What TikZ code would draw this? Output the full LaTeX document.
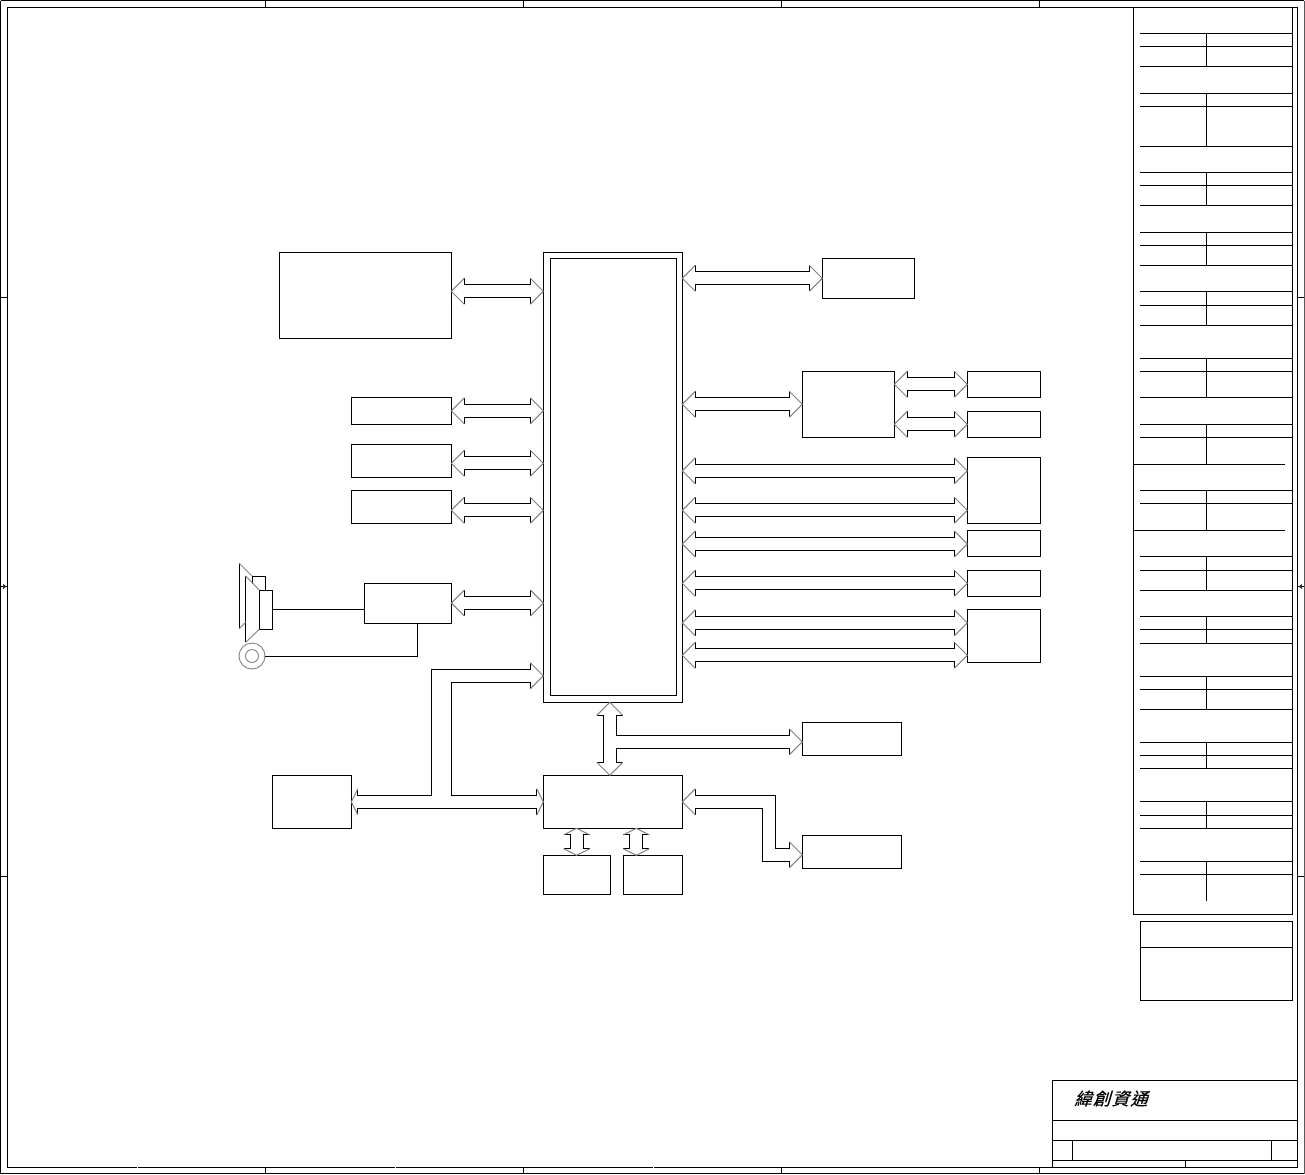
\documentclass[tikz,border=0pt]{standalone}
\usepackage{fontspec}
\newfontfamily\cjk[FakeSlant=0.3,FakeBold=0.4]{Noto Sans CJK TC}
\usetikzlibrary{arrows.meta}
\tikzset{
  wire/.style={draw=black,line width=.75pt,line join=miter,line cap=butt},
  headline/.style={draw=black!50,line width=.75pt,line join=miter},
  faint/.style={draw=black!45,line width=.75pt},
  blk/.style={draw=black,line width=.75pt,inner sep=0pt,outer sep=0pt,fill=none,rectangle}
}
% box: name, x1, y1, x2, y2 (pixels)
\newcommand\bx[5]{%
  \pgfmathsetmacro\bw{(#4-#2)*.75}\pgfmathsetmacro\bh{(#5-#3)*.75}%
  \node[blk,minimum width=\bw pt,minimum height=\bh pt] (#1) at ({(#2+#4)/2},{(#3+#5)/2}) {};}
% horizontal double block arrow between two named nodes at height y
\newcommand\biH[3]{%
  \coordinate (A) at (#1.east |- 0,#3);\coordinate (B) at (#2.west |- 0,#3);
  \draw[wire] ([shift={(13,-13)}]A) -- ([shift={(13,-6.5)}]A) -- ([shift={(-13,-6.5)}]B) -- ([shift={(-13,-13)}]B);
  \draw[wire] ([shift={(13,13)}]A) -- ([shift={(13,6.5)}]A) -- ([shift={(-13,6.5)}]B) -- ([shift={(-13,13)}]B);
  \draw[headline] ([shift={(13,-13)}]A) -- (A) -- ([shift={(13,13)}]A);
  \draw[headline] ([shift={(-13,-13)}]B) -- (B) -- ([shift={(-13,13)}]B);}
% short vertical double arrow between two named nodes at x
\newcommand\biV[3]{%
  \coordinate (A) at (#1.south -| #3,0);\coordinate (B) at (#2.north -| #3,0);
  \draw[wire] ([shift={(-13,6.6)}]A) -- ([shift={(-6.5,6.6)}]A) -- ([shift={(-6.5,-6.6)}]B) -- ([shift={(-13,-6.6)}]B);
  \draw[wire] ([shift={(13,6.6)}]A) -- ([shift={(6.5,6.6)}]A) -- ([shift={(6.5,-6.6)}]B) -- ([shift={(13,-6.6)}]B);
  \draw[headline] ([shift={(-13,6.6)}]A) -- (A) -- ([shift={(13,6.6)}]A);
  \draw[headline] ([shift={(-13,-6.6)}]B) -- (B) -- ([shift={(13,-6.6)}]B);}
\begin{document}
\begin{tikzpicture}[x=.75pt,y=-.75pt]
\useasboundingbox (0,0) rectangle (1305,1174);
% sheet frame
\draw[wire] (.5,.5) -- (1304.4,.5);
\draw[wire] (.5,.5) -- (.5,1173.5) -- (1304.4,1173.5);
\draw[draw=black!65,line width=.75pt] (1304.4,.5) -- (1304.4,1173.5);
\draw[wire] (7.3,1167.3) -- (7.3,7.3) -- (1297.7,7.3) -- (1297.7,1167.3);
\draw[wire] (7.3,1167.3) -- (136.5,1167.3) (138.2,1167.3) -- (394.5,1167.3) (396.2,1167.3) -- (652.5,1167.3) (654.2,1167.3) -- (1297.7,1167.3);
\foreach \tx in {265.3,523.3,781.3,1039.3}{
  \draw[wire] (\tx,.5) -- (\tx,7.3);
  \draw[wire] (\tx,1167.3) -- (\tx,1173.5);
}
\foreach \ty in {297.3,876}{
  \draw[wire] (.5,\ty) -- (7.3,\ty);
  \draw[wire] (1297.7,\ty) -- (1304.4,\ty);
}
\draw[wire] (.5,586.5) -- (7.3,586.5);
\draw[wire] (1297.7,586.5) -- (1304.4,586.5);
\fill[black!80] (6.5,586.5) -- (3.2,584) -- (3.2,589) -- cycle;
\fill[black!80] (1298.5,586.5) -- (1301.8,584) -- (1301.8,589) -- cycle;
% revision panel
\draw[wire] (1133.3,7.3) -- (1133.3,914.3) -- (1292.3,914.3) -- (1292.3,7.3);
\foreach \ta/\tb/\tc in {33.3/46.3/66.3,93.3/106.3/146.3,172.3/185.3/205.3,232.3/245.3/265.3,291.3/305.3/325.3,358.3/371.3/397.3,424.3/437.3/464.3,490.3/503.3/530.3,556.3/570.3/590.3,616.3/629.3/643.3,676.3/689.3/709.3,742.3/755.3/768.3,801.3/815.3/828.3,861.3/874.3/900.7}{
  \draw[wire] (1140,\ta) -- (1292.3,\ta);
  \draw[wire] (1140,\tb) -- (1292.3,\tb);
  \draw[wire] (1206.3,\ta) -- (1206.3,\tc);
}
\foreach \tc in {66.3,146.3,205.3,265.3,325.3,397.3,590.3,643.3,709.3,768.3,828.3}{
  \draw[wire] (1140,\tc) -- (1292.3,\tc);
}
\foreach \tc in {464.3,530.3}{
  \draw[wire] (1133.3,\tc) -- (1285,\tc);
}
\draw[wire] (1140.3,921.3) rectangle (1292.3,1000.3);
\draw[wire] (1140.3,947.3) -- (1292.3,947.3);
% title block
\draw[wire] (1297.7,1080.3) -- (1052.3,1080.3) -- (1052.3,1167.3);
\draw[wire] (1052.3,1120.3) -- (1297.7,1120.3);
\draw[wire] (1052.3,1140.3) -- (1297.7,1140.3);
\draw[wire] (1052.3,1160.3) -- (1297.7,1160.3);
\draw[wire] (1072.3,1140.3) -- (1072.3,1160.3);
\draw[wire] (1271.3,1140.3) -- (1271.3,1160.3);
\draw[wire] (1185.3,1160.3) -- (1185.3,1167.3);
\node[anchor=west,inner sep=0pt,font=\fontsize{13pt}{13pt}\selectfont\cjk] (logo) at (1074,1098.5) {緯\hspace{1pt}創\hspace{1pt}資\hspace{1pt}通};
% blocks
\bx{bigL}{279.3}{252.3}{451.3}{338.3}
\bx{cpuo}{543.3}{252.3}{682.3}{702.3}
\bx{cpu}{550.3}{258.3}{676.3}{695.3}
\bx{lcd}{822.3}{258.3}{914.3}{298.3}
\bx{la}{351.3}{397.3}{451.3}{424.3}
\bx{lb}{351.3}{444.3}{451.3}{477.3}
\bx{lc}{351.3}{490.3}{451.3}{523.3}
\bx{aud}{364.3}{583.3}{451.3}{623.3}
\bx{io}{272.3}{775.3}{351.3}{828.3}
\bx{sb}{543.3}{775.3}{682.3}{828.3}
\bx{sa}{543.3}{855.3}{610.3}{894.3}
\bx{sc}{623.3}{855.3}{682.3}{894.3}
\bx{ra}{802.3}{722.3}{901.3}{755.3}
\bx{rb}{802.3}{835.3}{901.3}{868.3}
\bx{hub}{802.3}{371.3}{894.3}{437.3}
\bx{ua}{967.3}{371.3}{1040.3}{397.3}
\bx{ub}{967.3}{411.3}{1040.3}{437.3}
\bx{uc}{967.3}{457.3}{1040.3}{523.3}
\bx{ud}{967.3}{530.3}{1040.3}{556.3}
\bx{ue}{967.3}{570.3}{1040.3}{596.3}
\bx{uf}{967.3}{609.3}{1040.3}{662.3}
% straight double arrows
\biH{bigL}{cpuo}{291.3}
\biH{la}{cpuo}{410.8}
\biH{lb}{cpuo}{463.3}
\biH{lc}{cpuo}{510.3}
\biH{aud}{cpuo}{603}
\biH{cpuo}{lcd}{278.3}
\biH{cpuo}{hub}{404.3}
\biH{hub}{ua}{384.3}
\biH{hub}{ub}{424.3}
\biH{cpuo}{uc}{470.8}
\biH{cpuo}{uc}{510.3}
\biH{cpuo}{ud}{544}
\biH{cpuo}{ue}{583.3}
\biH{cpuo}{uf}{622.8}
\biH{cpuo}{uf}{655.3}
\biV{sb}{sa}{576.7}
\biV{sb}{sc}{636.3}
% T-shaped arrow between CPU and bridge, branch to ra
\coordinate (tt) at (cpuo.south -| 609.8,0);
\coordinate (tb) at (sb.north -| 609.8,0);
\coordinate (tr) at (ra.west |- 0,741.8);
\draw[wire] ([shift={(-13,13)}]tt) -- ([shift={(-6.5,13)}]tt) -- ([shift={(-6.5,-13)}]tb) -- ([shift={(-13,-13)}]tb);
\draw[wire] ([shift={(13,13)}]tt) -- ([shift={(6.5,13)}]tt) |- ([shift={(-13,-6.5)}]tr) -- ([shift={(-13,-13)}]tr);
\draw[wire] ([shift={(13,-13)}]tb) -- ([shift={(6.5,-13)}]tb) |- ([shift={(-13,6.5)}]tr) -- ([shift={(-13,13)}]tr);
\draw[headline] ([shift={(-13,13)}]tt) -- (tt) -- ([shift={(13,13)}]tt);
\draw[headline] ([shift={(-13,-13)}]tb) -- (tb) -- ([shift={(13,-13)}]tb);
\draw[headline] ([shift={(-13,-13)}]tr) -- (tr) -- ([shift={(-13,13)}]tr);
% bridge to rb (stepped)
\coordinate (sl) at (sb.east |- 0,801.8);
\coordinate (sr) at (rb.west |- 0,854.8);
\draw[wire] ([shift={(13,-13)}]sl) -- ([shift={(13,-6.5)}]sl) -| (775.7,848.3) -- ([shift={(-13,-6.5)}]sr) -- ([shift={(-13,-13)}]sr);
\draw[wire] ([shift={(13,13)}]sl) -- ([shift={(13,6.5)}]sl) -| (762.3,861.3) -- ([shift={(-13,6.5)}]sr) -- ([shift={(-13,13)}]sr);
\draw[headline] ([shift={(13,-13)}]sl) -- (sl) -- ([shift={(13,13)}]sl);
\draw[headline] ([shift={(-13,-13)}]sr) -- (sr) -- ([shift={(-13,13)}]sr);
% three-way arrow: io, cpu, bridge
\coordinate (il) at (io.east |- 0,801.8);
\coordinate (ic) at (cpuo.west |- 0,675.8);
\coordinate (is) at (sb.west |- 0,801.8);
\draw[wire] ([shift={(6.5,-13)}]il) -- ([shift={(6.5,-6.5)}]il) -| (431.3,669.3) -- ([shift={(-13,-6.5)}]ic) -- ([shift={(-13,-13)}]ic);
\draw[wire] ([shift={(-13,13)}]ic) -- ([shift={(-13,6.5)}]ic) -| (451.3,795.3) -- ([shift={(-6.5,-6.5)}]is) -- ([shift={(-6.5,-13)}]is);
\draw[wire] ([shift={(6.5,13)}]il) -- ([shift={(6.5,6.5)}]il) -- ([shift={(-6.5,6.5)}]is) -- ([shift={(-6.5,13)}]is);
\draw[headline] ([shift={(6.5,-13)}]il) -- (il) -- ([shift={(6.5,13)}]il);
\draw[headline] ([shift={(-13,-13)}]ic) -- (ic) -- ([shift={(-13,13)}]ic);
\draw[headline] ([shift={(-6.5,-13)}]is) -- (is) -- ([shift={(-6.5,13)}]is);
% speaker and microphone
\bx{spk}{259.3}{590}{272.3}{629.3}
\coordinate (mic) at (252,656);
\draw[wire] (252.3,584) -- (252.3,576.3) -- (265.3,576.3) -- (265.3,590);
\draw[wire] (245.7,576) -- (245.7,642.3);
\draw[wire] (239.3,563.3) -- (239.3,628.7);
\draw[faint] (239.3,563.3) -- (252.3,576.3);
\draw[faint] (245.7,576) -- (259.3,590);
\draw[faint] (245.7,642.3) -- (259.3,629.3);
\draw[faint] (239.3,628.7) -- (245.7,622);
\draw[faint] (mic) circle[radius=13];
\draw[faint] (mic) circle[radius=6.5];
\draw[wire] (spk.east |- 0,609.3) -- (aud.west |- 0,609.3);
\draw[wire] (265,656.3) -- (417.3,656.3) -- (417.3,623.3);
\end{tikzpicture}
\end{document}
